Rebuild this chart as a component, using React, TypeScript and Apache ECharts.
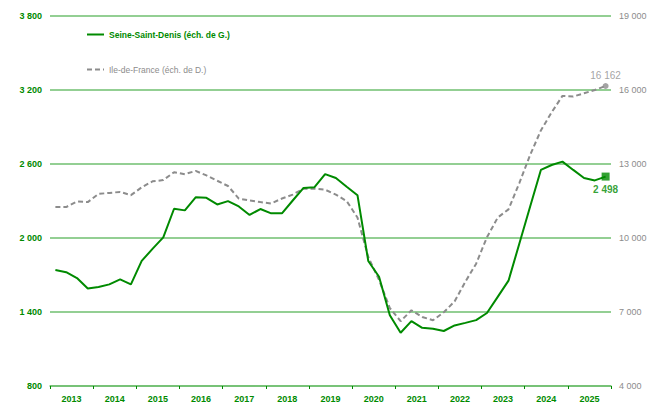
import React, { useEffect, useRef } from "react";
import * as echarts from "echarts";

const years = ["2013","2014","2015","2016","2017","2018","2019","2020","2021","2022","2023","2024","2025"];
const quarters: string[] = [];
years.forEach((y) => { for (let q = 1; q <= 4; q++) quarters.push(y + "T" + q); });

const seineSaintDenis = [
  1740, 1723, 1675, 1590, 1603, 1624, 1664, 1624,
  1814, 1912, 2005, 2237, 2224, 2330, 2326, 2272,
  2299, 2256, 2187, 2235, 2200, 2200, 2304, 2406,
  2411, 2518, 2486, 2416, 2347, 1814, 1686, 1374,
  1232, 1326, 1272, 1264, 1246, 1291, 1312, 1334,
  1392, 1523, 1654, 1953, 2253, 2552, 2592, 2619,
  2552, 2486, 2467, 2498,
];

const ileDeFrance = [
  11256, 11256, 11480, 11456, 11788, 11828, 11868, 11736,
  12056, 12296, 12348, 12668, 12588, 12720, 12536, 12320,
  12108, 11600, 11520, 11456, 11400, 11600, 11760, 12000,
  12000, 11960, 11760, 11496, 10828, 9228, 8296, 7160,
  6628, 7068, 6800, 6668, 6988, 7428, 8228, 8960,
  10028, 10828, 11160, 12228, 13360, 14360, 15096, 15760,
  15736, 15868, 16000, 16162,
];

const leftTicks = { min: 800, max: 3800, interval: 600 };
const rightTicks = { min: 4000, max: 19000, interval: 3000 };

const GREEN = "#008a00";
const GRID_GREEN = "#6fbf6f";
const GRAY = "#8c8c8c";
const FONT = "Liberation Sans, Arial, sans-serif";

const fmt = (v: number) => {
  const s = Math.round(v).toString();
  return s.replace(/\B(?=(\d{3})+(?!\d))/g, " ");
};

export default function App() {
  const ref = useRef<HTMLDivElement>(null);
  useEffect(() => {
    if (!ref.current) return;
    const chart = echarts.init(ref.current, undefined, { renderer: "svg", width: 659, height: 403 });
    const last = quarters.length - 1;
    chart.setOption({
      animation: false,
      backgroundColor: "#ffffff",
      textStyle: { fontFamily: FONT },
      grid: { left: 50, width: 561, top: 16, height: 375, containLabel: false },
      legend: {
        orient: "vertical",
        left: 81,
        top: 25,
        itemGap: 26,
        itemWidth: 17,
        itemHeight: 10,
        itemStyle: { opacity: 0 },
        textStyle: { fontFamily: FONT, fontSize: 8.5 },
        data: [
          { name: "Seine-Saint-Denis (éch. de G.)", textStyle: { color: GREEN, fontWeight: "bold" } },
          { name: "Ile-de-France (éch. de D.)", textStyle: { color: GRAY, fontWeight: "normal" } },
        ],
      },
      xAxis: [
        {
          type: "category",
          data: years,
          boundaryGap: true,
          axisLine: { lineStyle: { color: GRID_GREEN, width: 1.5 } },
          axisTick: { show: true, length: 3, lineStyle: { color: GREEN, width: 1 } },
          axisLabel: { color: GREEN, fontWeight: "bold", fontSize: 9, fontFamily: FONT, margin: 8 },
          splitLine: { show: false },
        },
        {
          type: "category",
          data: quarters,
          boundaryGap: true,
          show: false,
        },
      ],
      yAxis: [
        {
          type: "value",
          min: leftTicks.min,
          max: leftTicks.max,
          interval: leftTicks.interval,
          axisLine: { show: false },
          axisTick: { show: false },
          axisLabel: { color: GREEN, fontWeight: "bold", fontSize: 9, fontFamily: FONT, margin: 8, formatter: fmt },
          splitLine: { show: true, lineStyle: { color: GRID_GREEN, width: 1.5 } },
        },
        {
          type: "value",
          min: rightTicks.min,
          max: rightTicks.max,
          interval: rightTicks.interval,
          position: "right",
          axisLine: { show: false },
          axisTick: { show: false },
          axisLabel: { color: GRAY, fontSize: 9, fontFamily: FONT, margin: 8, formatter: fmt },
          splitLine: { show: false },
        },
      ],
      series: [
        {
          name: "Seine-Saint-Denis (éch. de G.)",
          type: "line",
          xAxisIndex: 1,
          yAxisIndex: 0,
          data: seineSaintDenis,
          symbol: "none",
          lineStyle: { color: GREEN, width: 2 },
          itemStyle: { color: GREEN },
          z: 3,
        },
        {
          name: "Ile-de-France (éch. de D.)",
          type: "line",
          xAxisIndex: 1,
          yAxisIndex: 1,
          data: ileDeFrance,
          symbol: "none",
          lineStyle: { color: GRAY, width: 2, type: [5, 3] },
          itemStyle: { color: GRAY },
          z: 2,
        },
        {
          type: "scatter",
          xAxisIndex: 1,
          yAxisIndex: 0,
          data: [[quarters[last], seineSaintDenis[last]]],
          symbol: "rect",
          symbolSize: 8,
          itemStyle: { color: GREEN },
          label: {
            show: true,
            position: "bottom",
            distance: 4,
            formatter: () => fmt(seineSaintDenis[last]),
            color: GREEN,
            fontWeight: "bold",
            fontSize: 10,
            fontFamily: FONT,
          },
          z: 4,
        },
        {
          type: "scatter",
          xAxisIndex: 1,
          yAxisIndex: 1,
          data: [[quarters[last], ileDeFrance[last]]],
          symbol: "circle",
          symbolSize: 6,
          itemStyle: { color: GRAY },
          label: {
            show: true,
            position: "top",
            distance: 3,
            formatter: () => fmt(ileDeFrance[last]),
            color: GRAY,
            fontSize: 10,
            fontFamily: FONT,
          },
          z: 4,
        },
      ],
    });
    return () => chart.dispose();
  }, []);
  return (
    <div
      ref={ref}
      style={{ position: "fixed", left: 0, top: 0, width: 659, height: 403, background: "#fff" }}
    />
  );
}
